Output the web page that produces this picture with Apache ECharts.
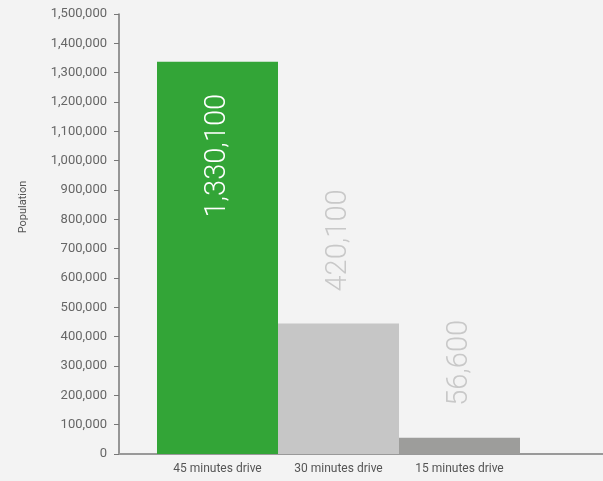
<!DOCTYPE html>
<html><head><meta charset="utf-8">
<script src="https://cdn.jsdelivr.net/npm/echarts@6/dist/echarts.min.js"></script>
<style>html,body{margin:0;padding:0;background:#f3f3f3}#c{width:603px;height:481px}</style>
</head><body><div id="c"></div>
<script>
var categories = ['45 minutes drive', '30 minutes drive', '15 minutes drive', ''];
var populationValues = [1337000, 445000, 55000, null];
var labelTexts = ['1,330,100', '420,100', '56,600', ''];
var barColors = ['#33a537', '#c6c6c6', '#9d9d9b', '#9d9d9b'];
var labelColors = ['#ffffff', '#c8c8c8', '#c8c8c8', '#c8c8c8'];
var yMin = 0, yMax = 1500000, yStep = 100000;

var chart = echarts.init(document.getElementById('c'), null, {renderer: 'canvas'});
var data = populationValues.map(function (v, i) {
  var inside = i === 0;
  return {
    value: v,
    itemStyle: {color: barColors[i]},
    label: {
      show: v != null,
      position: inside ? 'insideTop' : 'top',
      distance: 32,
      rotate: 90,
      align: inside ? 'right' : 'left',
      verticalAlign: 'middle',
      color: labelColors[i],
      fontFamily: 'Roboto',
      fontWeight: 300,
      fontSize: 29,
      formatter: function () { return labelTexts[i]; }
    }
  };
});
chart.setOption({
  backgroundColor: '#f3f3f3',
  animation: false,
  grid: [
    {left: 157, width: 484, top: 14, bottom: 27, outerBoundsMode: 'none', containLabel: false},
    {left: 119, width: 38, top: 14, bottom: 27, outerBoundsMode: 'none', containLabel: false}
  ],
  xAxis: [{
    type: 'category', data: categories, gridIndex: 0,
    axisLine: {lineStyle: {color: '#999999', width: 2}},
    axisTick: {show: false},
    axisLabel: {color: '#555555', fontFamily: 'Roboto', fontSize: 12, margin: 9, interval: 0}
  }, {
    type: 'value', gridIndex: 1, min: 0, max: 1,
    axisLine: {show: true, onZero: false, lineStyle: {color: '#999999', width: 2}},
    axisTick: {show: false}, axisLabel: {show: false}, splitLine: {show: false}
  }],
  yAxis: [{
    type: 'value', gridIndex: 0, min: yMin, max: yMax, interval: yStep,
    offset: 38,
    name: 'Population', nameLocation: 'middle', nameGap: 90, nameRotate: 90,
    nameTextStyle: {color: '#555555', fontFamily: 'Roboto', fontSize: 11, padding: [0, 0, 0, 54]},
    axisLine: {show: true, lineStyle: {color: '#777777', width: 1.5}},
    axisTick: {show: true, length: 5, lineStyle: {color: '#777777'}},
    axisLabel: {color: '#666666', fontFamily: 'Roboto', fontSize: 13, margin: 12,
      formatter: function (v) { return v.toLocaleString('en-US'); }},
    splitLine: {show: false}
  }, {
    type: 'value', gridIndex: 1, show: false
  }],
  series: [{
    type: 'bar', xAxisIndex: 0, yAxisIndex: 0,
    barWidth: '100%', barCategoryGap: 0,
    data: data
  }]
});
</script></body></html>
